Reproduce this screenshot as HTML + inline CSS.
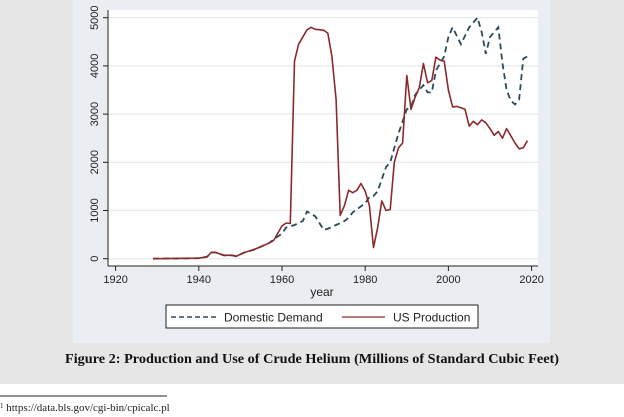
<!DOCTYPE html>
<html><head><meta charset="utf-8"><style>
html,body{margin:0;padding:0;background:#fff;}
body{width:624px;height:417px;position:relative;overflow:hidden;font-family:"Liberation Sans",sans-serif;}
</style></head><body>
<svg id="s" width="624" height="417" xmlns="http://www.w3.org/2000/svg" style="position:absolute;left:0;top:0">
<rect x="0" y="0" width="624" height="384" fill="#e6e6e6"/>
<rect x="73" y="0" width="477" height="343" fill="#eaeef2"/>
<rect x="108" y="10" width="430" height="256" fill="#ffffff"/>
<g id="grid"></g>
<line x1="108" y1="10" x2="108" y2="266" stroke="#222" stroke-width="1"/>
<line x1="108" y1="266" x2="538" y2="266" stroke="#222" stroke-width="1"/>
<g id="ticks" font-size="11" fill="#222"></g>
<text x="322" y="296" font-size="12" text-anchor="middle" fill="#222">year</text>
<g id="lines"></g>
<rect x="166" y="305" width="312" height="23" fill="#fff" stroke="#222" stroke-width="1"/>
<line x1="171" y1="317" x2="218" y2="317" stroke="#2b4a5a" stroke-width="1.5" stroke-dasharray="5,3"/>
<text x="224" y="321.5" font-size="12" fill="#222">Domestic Demand</text>
<line x1="342" y1="317" x2="385" y2="317" stroke="#8b2a2a" stroke-width="1.3"/>
<text x="393" y="321.5" font-size="12" fill="#222">US Production</text>
<text x="312" y="363" font-size="14" font-weight="bold" text-anchor="middle" fill="#111" font-family="Liberation Serif,serif" textLength="494" lengthAdjust="spacingAndGlyphs">Figure 2: Production and Use of Crude Helium (Millions of Standard Cubic Feet)</text>
<line x1="0" y1="396" x2="167" y2="396" stroke="#222" stroke-width="1"/>
<text x="0" y="411" font-size="11" fill="#222" font-family="Liberation Serif,serif"><tspan font-size="7" dy="-3">1</tspan><tspan dy="3"> https://data.bls.gov/cgi-bin/cpicalc.pl</tspan></text>
</svg>
<script>
const NS="http://www.w3.org/2000/svg";
const X=y=>115.6+(y-1920)*83.2/20, Y=v=>258.7-v*0.0482;
function el(t,a,p){const e=document.createElementNS(NS,t);for(const k in a)e.setAttribute(k,a[k]);if(p)p.appendChild(e);return e;}
const g=document.getElementById('grid'),tk=document.getElementById('ticks'),ln=document.getElementById('lines');
for(let v=0;v<=5000;v+=1000){const y=Y(v);
 el('line',{x1:108,x2:538,y1:y,y2:y,stroke:'#e4eaee','stroke-width':1.2},g);
 el('line',{x1:103,x2:108,y1:y,y2:y,stroke:'#222'},tk);
 const t=el('text',{x:0,y:0,'text-anchor':'middle',transform:`translate(98,${y}) rotate(-90)`},tk);t.textContent=v;}
for(let yr=1920;yr<=2020;yr+=20){const x=X(yr);
 el('line',{x1:x,x2:x,y1:266,y2:271,stroke:'#222'},tk);
 const t=el('text',{x:x,y:283,'text-anchor':'middle'},tk);t.textContent=yr;}
const prod=[[1929,0],[1940,10],[1942,40],[1943,130],[1944,130],[1946,70],[1948,70],[1949,50],[1951,130],[1953,180],[1955,250],[1957,330],[1958,380],[1960,680],[1961,740],[1962,730],[1963,4100],[1964,4450],[1966,4750],[1967,4800],[1968,4760],[1970,4740],[1971,4680],[1972,4200],[1973,3300],[1974,900],[1975,1100],[1976,1420],[1977,1370],[1978,1420],[1979,1560],[1980,1400],[1981,1100],[1982,230],[1983,650],[1984,1200],[1985,1000],[1986,1020],[1987,2000],[1988,2300],[1989,2400],[1990,3800],[1991,3100],[1992,3350],[1993,3550],[1994,4050],[1995,3650],[1996,3700],[1997,4180],[1998,4120],[1999,4100],[2000,3500],[2001,3150],[2002,3160],[2003,3130],[2004,3100],[2005,2750],[2006,2850],[2007,2780],[2008,2880],[2009,2820],[2010,2700],[2011,2560],[2012,2640],[2013,2500],[2014,2700],[2015,2550],[2016,2400],[2017,2280],[2018,2300],[2019,2450]];
const dem=[[1929,0],[1940,10],[1942,40],[1943,130],[1944,130],[1946,70],[1948,70],[1949,50],[1951,130],[1953,180],[1955,250],[1957,330],[1958,400],[1960,520],[1961,650],[1963,700],[1965,780],[1966,980],[1967,930],[1968,880],[1970,600],[1971,620],[1973,700],[1975,780],[1976,850],[1977,960],[1980,1150],[1981,1280],[1982,1300],[1983,1400],[1985,1900],[1986,2000],[1988,2600],[1990,3100],[1991,3150],[1992,3400],[1994,3600],[1995,3450],[1996,3450],[1997,3900],[1999,4200],[2000,4600],[2001,4800],[2003,4450],[2005,4800],[2007,5000],[2008,4700],[2009,4250],[2010,4600],[2012,4800],[2013,4050],[2014,3500],[2015,3280],[2016,3200],[2017,3300],[2018,4150],[2019,4200]];
const pts=d=>d.map(p=>X(p[0]).toFixed(1)+','+Y(p[1]).toFixed(1)).join(' ');
el('polyline',{points:pts(dem),fill:'none',stroke:'#2b4a5a','stroke-width':1.8,'stroke-dasharray':'6,4'},ln);
el('polyline',{points:pts(prod),fill:'none',stroke:'#8b2a2a','stroke-width':1.6,'stroke-linejoin':'round'},ln);
</script>
</body></html>
